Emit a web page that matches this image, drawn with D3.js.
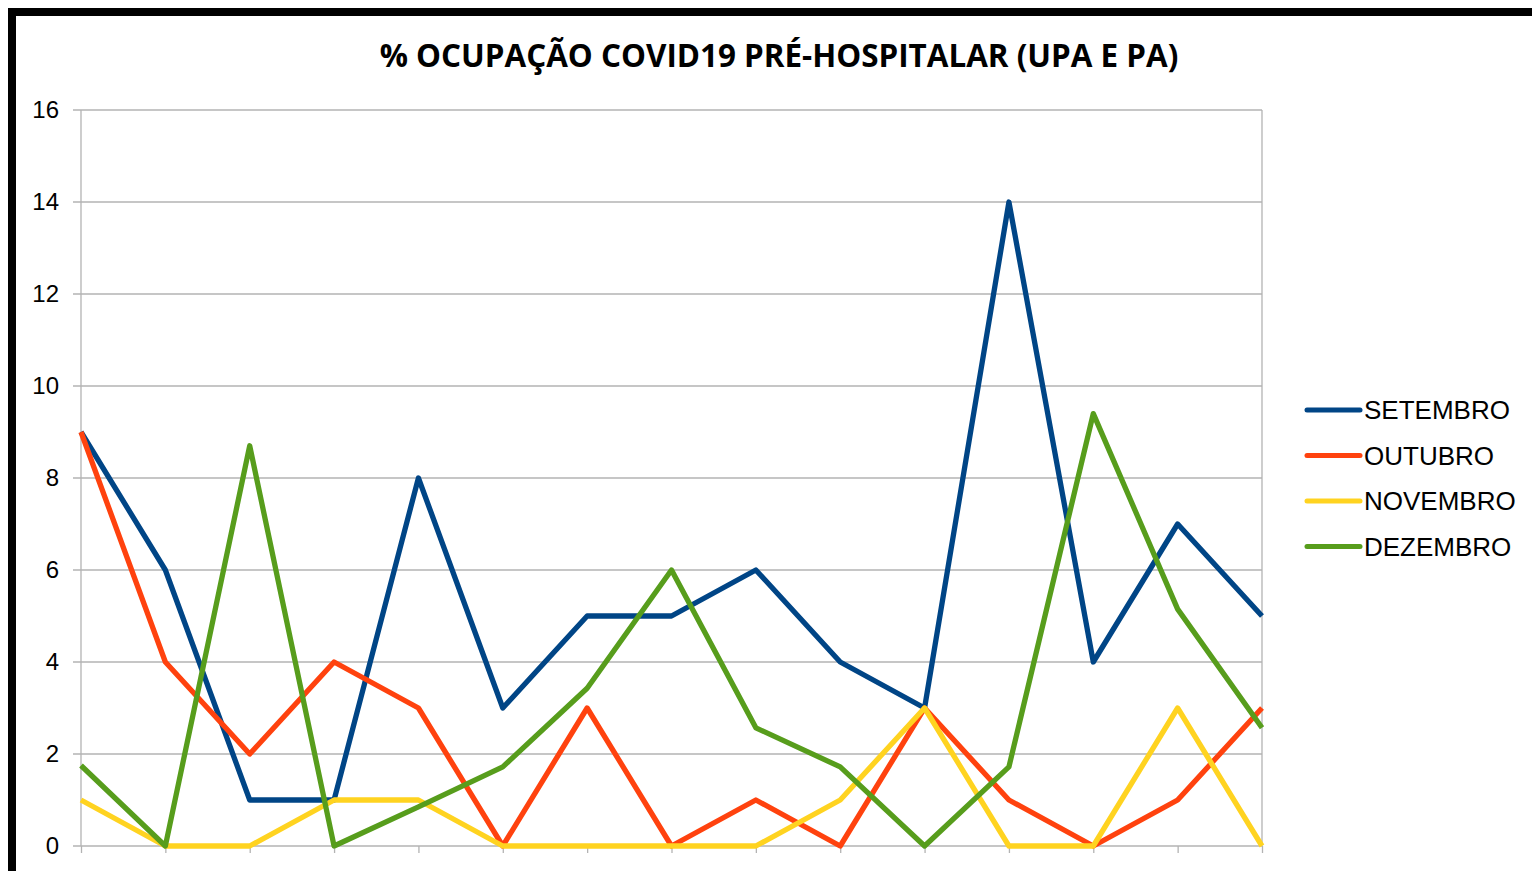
<!DOCTYPE html>
<html>
<head>
<meta charset="utf-8">
<script src="https://cdn.jsdelivr.net/npm/d3@7"></script>
<style>
    body { margin: 0; background: #fff; }
    svg { display: block; }
</style>
</head>
<body>
<svg id="chart"></svg>
<script>
//----------------------------//
//            DATA            //
//----------------------------//
const points = d3.range(15);
const yTicks = [0, 2, 4, 6, 8, 10, 12, 14, 16];
const seriesNames = ["SETEMBRO", "OUTUBRO", "NOVEMBRO", "DEZEMBRO"];
const setembro = [9, 6, 1, 1, 8, 3, 5, 5, 6, 4, 3, 14, 4, 7, 5];
const outubro = [9, 4, 2, 4, 3, 0, 3, 0, 1, 0, 3, 1, 0, 1, 3];
const novembro = [1, 0, 0, 1, 1, 0, 0, 0, 0, 1, 3, 0, 0, 3, 0];
const dezembro = [1.75, 0, 8.7, 0, 0.85, 1.72, 3.43, 6, 2.57, 1.72, 0, 1.72, 9.4, 5.15, 2.57];
const colors = ["#004586", "#ff420e", "#ffd320", "#579d1c"];

// --- Plotting Module ---
function plotChart() {
    const W = 1532, H = 871;
    const margin = { top: 110, left: 81, right: 1532 - 1262, bottom: 871 - 846 };
    const width = W - margin.left - margin.right;
    const height = H - margin.top - margin.bottom;

    const svg = d3.select('#chart').attr('width', W).attr('height', H);

    // outer frame
    svg.append('line').attr('x1', 8).attr('x2', W).attr('y1', 12).attr('y2', 12)
        .attr('stroke', '#000').attr('stroke-width', 8);
    svg.append('line').attr('x1', 12).attr('x2', 12).attr('y1', 8).attr('y2', H)
        .attr('stroke', '#000').attr('stroke-width', 8);

    svg.append('text')
        .attr('x', 779).attr('y', 67)
        .attr('text-anchor', 'middle')
        .attr('font-family', '"Open Sans", sans-serif')
        .attr('font-weight', 700)
        .attr('font-size', 31.4)
        .text('% OCUPAÇÃO COVID19 PRÉ-HOSPITALAR (UPA E PA)');

    const g = svg.append('g').attr('transform', `translate(${margin.left},${margin.top})`);

    const x = d3.scaleLinear().domain([0, points.length - 1]).range([0, width]);
    const y = d3.scaleLinear().domain([0, 16]).range([height, 0]);

    // grid
    g.append('g')
        .selectAll('line')
        .data(yTicks)
        .enter()
        .append('line')
        .attr('x1', -8).attr('x2', width)
        .attr('y1', d => y(d)).attr('y2', d => y(d))
        .attr('stroke', '#b3b3b3').attr('stroke-width', 1.3);

    g.append('line')
        .attr('x1', 0).attr('x2', 0).attr('y1', 0).attr('y2', height)
        .attr('stroke', '#b3b3b3').attr('stroke-width', 1.3);
    g.append('line')
        .attr('x1', width).attr('x2', width).attr('y1', 0).attr('y2', height)
        .attr('stroke', '#b3b3b3').attr('stroke-width', 1.3);

    const xAxis = g.append('g')
        .attr('transform', `translate(0,${height})`)
        .call(d3.axisBottom(x).tickValues(points).tickSize(7).tickFormat(''));
    xAxis.select('.domain').remove();
    xAxis.selectAll('line').attr('stroke', '#b3b3b3').attr('stroke-width', 1.3);

    const yAxis = g.append('g')
        .call(d3.axisLeft(y).tickValues(yTicks).tickSize(0).tickPadding(22));
    yAxis.select('.domain').remove();
    yAxis.selectAll('text')
        .attr('font-family', '"Liberation Sans", Arial, sans-serif')
        .attr('font-size', 24)
        .attr('fill', '#000');

    const line = d3.line()
        .x((d, i) => x(i))
        .y(d => y(d));

    const allSeries = [setembro, outubro, novembro, dezembro];
    allSeries.forEach((values, k) => {
        g.append('path')
            .datum(values)
            .attr('fill', 'none')
            .attr('stroke', colors[k])
            .attr('stroke-width', 5.3)
            .attr('stroke-linejoin', 'round')
            .attr('d', line);
    });

    // legend
    const legend = svg.append('g').attr('transform', 'translate(1307,410)');
    seriesNames.forEach((name, k) => {
        const row = legend.append('g').attr('transform', `translate(0,${k * 45.5})`);
        row.append('line')
            .attr('x1', 0).attr('x2', 53)
            .attr('stroke', colors[k])
            .attr('stroke-width', 5)
            .attr('stroke-linecap', 'round');
        row.append('text')
            .attr('x', 57).attr('y', 9)
            .attr('font-family', '"Liberation Sans", Arial, sans-serif')
            .attr('font-size', 26)
            .text(name);
    });
}

// --- Main Execution ---
document.addEventListener('DOMContentLoaded', () => {
    plotChart();
});
</script>
</body>
</html>
